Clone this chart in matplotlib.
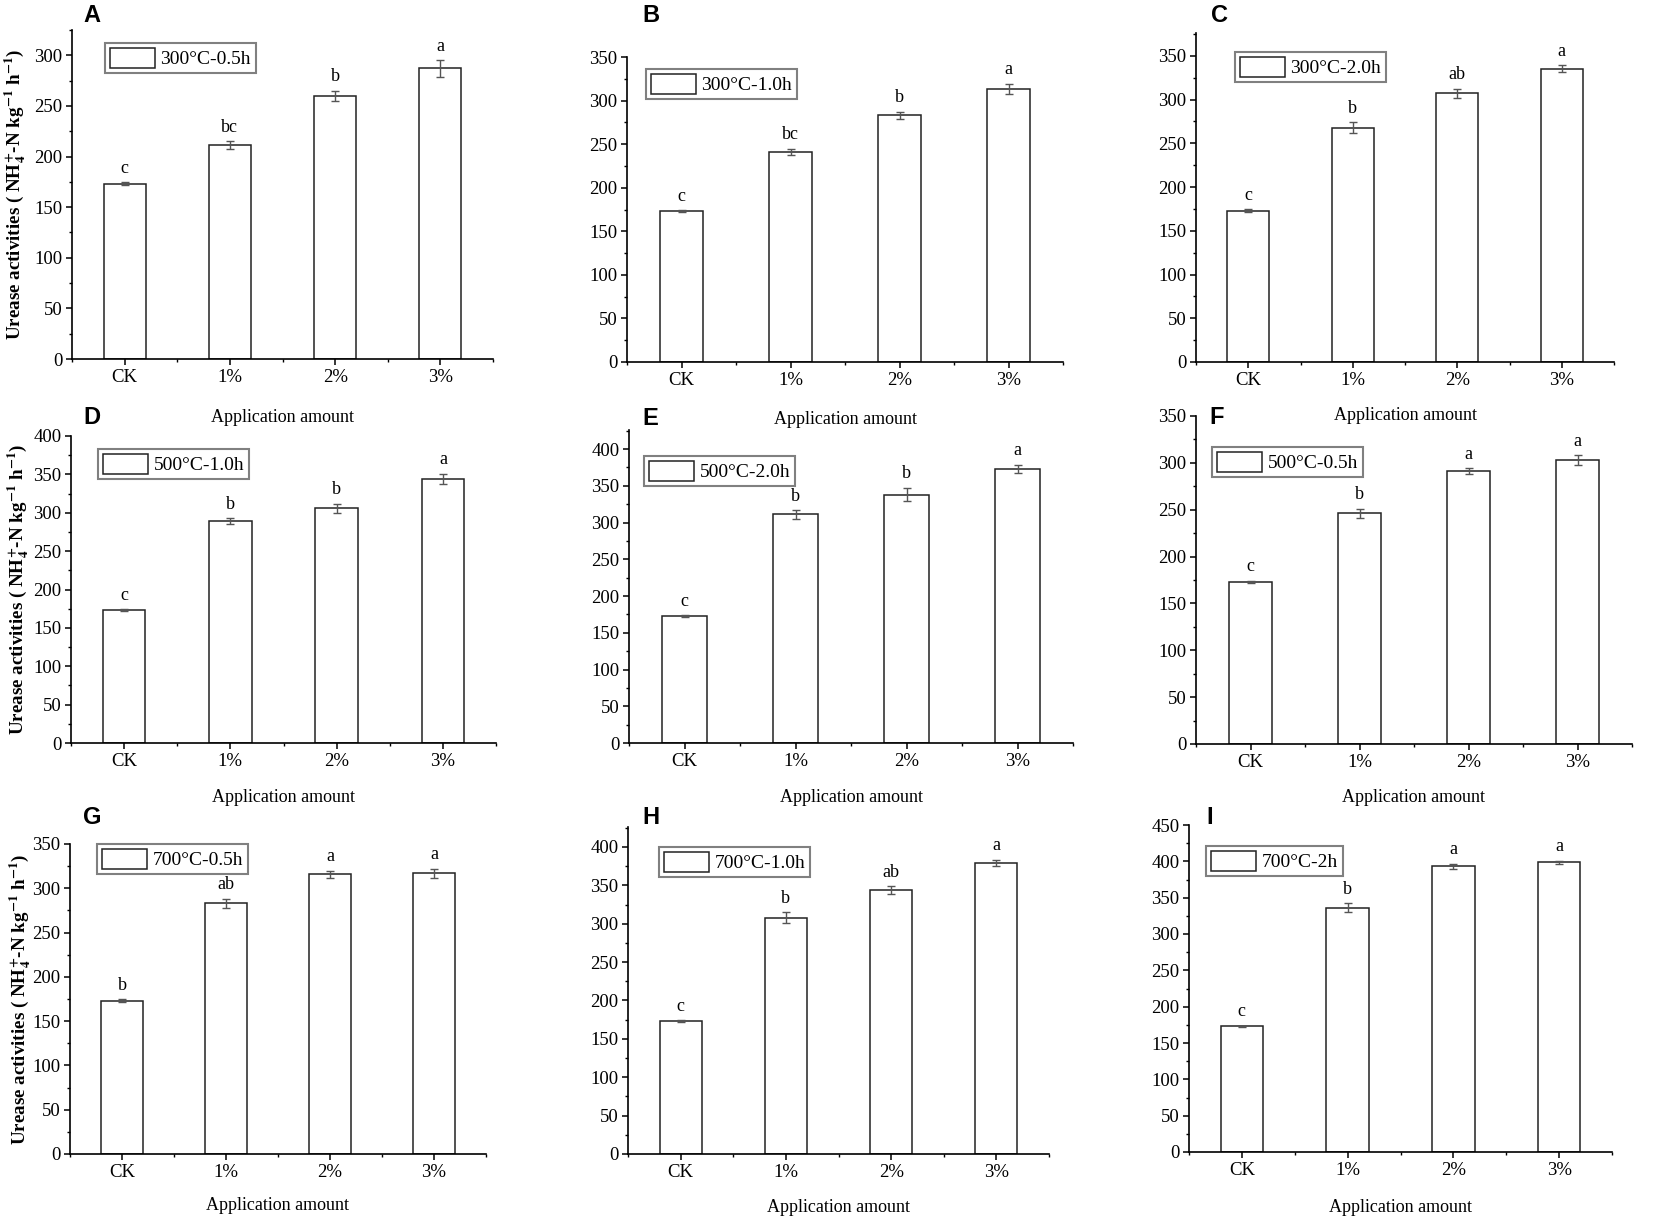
"""
Urease activity under biochar application - 3x3 panel bar charts
"""

import matplotlib
matplotlib.use("Agg")
import matplotlib.pyplot as plt
from matplotlib.ticker import MultipleLocator, AutoMinorLocator, FixedLocator

plt.rcParams['font.family'] = ['Liberation Serif', 'DejaVu Serif']
plt.rcParams['mathtext.fontset'] = 'stix'

# ---- data ----
categories = ["CK", "1%", "2%", "3%"]
panel_ids = ["A", "B", "C", "D", "E", "F", "G", "H", "I"]
treatments = ["300°C-0.5h", "300°C-1.0h", "300°C-2.0h",
              "500°C-1.0h", "500°C-2.0h", "500°C-0.5h",
              "700°C-0.5h", "700°C-1.0h", "700°C-2h"]

mean_A = [173, 211, 260, 287]
sd_A = [1.5, 4, 5, 8]
sig_A = ["c", "bc", "b", "a"]

mean_B = [173, 241, 283, 313]
sd_B = [1, 4, 4, 6]
sig_B = ["c", "bc", "b", "a"]

mean_C = [173, 268, 307, 335]
sd_C = [1.5, 6, 5, 4]
sig_C = ["c", "b", "ab", "a"]

mean_D = [173, 289, 306, 344]
sd_D = [1, 4, 6, 7]
sig_D = ["c", "b", "b", "a"]

mean_E = [173, 311, 338, 373]
sd_E = [1, 6, 9, 6]
sig_E = ["c", "b", "b", "a"]

mean_F = [173, 246, 291, 303]
sd_F = [1, 5, 3, 5]
sig_F = ["c", "b", "a", "a"]

mean_G = [173, 283, 316, 317]
sd_G = [1.5, 5, 4, 5]
sig_G = ["b", "ab", "a", "a"]

mean_H = [173, 308, 344, 379]
sd_H = [1, 7, 5, 4]
sig_H = ["c", "b", "ab", "a"]

mean_I = [173, 336, 393, 399]
sd_I = [1, 6, 4, 2]
sig_I = ["c", "b", "a", "a"]

y_top = [325, 350, 376, 400, 426, 350, 350, 426, 450]

means = [mean_A, mean_B, mean_C, mean_D, mean_E, mean_F, mean_G, mean_H, mean_I]
sds = [sd_A, sd_B, sd_C, sd_D, sd_E, sd_F, sd_G, sd_H, sd_I]
sigs = [sig_A, sig_B, sig_C, sig_D, sig_E, sig_F, sig_G, sig_H, sig_I]

# ---- layout in pixels: left, right, top, bottom ----
W, H = 1654, 1220
axes_px = [(72, 493, 30, 359), (627, 1063, 57, 362), (1196, 1614, 33, 362),
           (71, 496, 436, 743), (629, 1073, 430, 743), (1196, 1632, 416, 744),
           (70, 486, 844, 1154), (628, 1049, 827, 1154), (1189, 1612, 825, 1152)]
legend_px = [(105, 43), (646, 69), (1235, 52),
             (98, 449), (644, 456), (1212, 447),
             (97, 844), (659, 847), (1206, 846)]
letter_px = [(92, 15), (651, 15), (1219, 15),
             (92, 418), (650, 419), (1217, 418),
             (92, 817), (651, 817), (1210, 817)]
xlabel_gap = [59, 58, 53, 54, 54, 54, 51, 53, 55]
ylabel_x = {0: 15, 3: 18, 6: 20}

ylabel = r"Urease activities ( NH$_\mathbf{4}^\mathbf{+}$-N kg$^\mathbf{-1}$ h$^\mathbf{-1}$)"

fig = plt.figure(figsize=(W / 100, H / 100), dpi=100)

for i in range(9):
    left, right, top, bottom = axes_px[i]
    w, h = right - left, bottom - top
    ax = fig.add_axes([left / W, 1 - bottom / H, w / W, h / H])
    ax.patch.set_visible(False)

    x = list(range(len(categories)))
    ax.bar(x, means[i], width=0.4, color="white", edgecolor="#222222",
           linewidth=1.1, label=treatments[i], zorder=2)
    ax.errorbar(x, means[i], yerr=sds[i], fmt="none", ecolor="#555555",
                elinewidth=1.0, capsize=3, capthick=1.0, zorder=3)
    for xi, m, s, lab in zip(x, means[i], sds[i], sigs[i]):
        ax.annotate(lab, (xi, m + s), xytext=(0, 4), textcoords="offset points",
                    ha="center", va="bottom", fontsize=13)

    ax.set_xlim(-0.5, 3.5)
    ax.set_ylim(0, y_top[i])
    ax.set_xticks(x)
    ax.set_xticklabels(categories)
    ax.xaxis.set_minor_locator(FixedLocator([-0.5, 0.5, 1.5, 2.5, 3.5]))
    ax.yaxis.set_major_locator(MultipleLocator(50))
    ax.yaxis.set_minor_locator(AutoMinorLocator(2))
    ax.tick_params(which="major", direction="out", length=4, width=1.1,
                   labelsize=13.5, pad=3)
    ax.tick_params(which="minor", direction="out", length=2.5, width=1.0)
    for side in ["top", "right"]:
        ax.spines[side].set_visible(False)
    for side in ["left", "bottom"]:
        ax.spines[side].set_linewidth(1.2)

    ax.set_xlabel("Application amount", fontsize=13, va="center")
    ax.xaxis.set_label_coords(0.5, -xlabel_gap[i] / h)
    if i in ylabel_x:
        ax.set_ylabel(ylabel, fontsize=13.7, fontweight="bold", va="center")
        ax.yaxis.set_label_coords(-(left - ylabel_x[i]) / w, 0.5)

    lx, ly = legend_px[i]
    leg = ax.legend(loc="upper left",
                    bbox_to_anchor=((lx - left) / w, 1 - (ly - top) / h),
                    borderaxespad=0, fontsize=14, handlelength=2.3,
                    handleheight=1.2, handletextpad=0.3, borderpad=0.25,
                    fancybox=False, framealpha=1)
    leg.get_frame().set_edgecolor("#808080")
    leg.get_frame().set_linewidth(1.5)

    fx, fy = letter_px[i]
    fig.text(fx / W, 1 - fy / H, panel_ids[i], fontsize=17, fontweight="bold",
             family="Liberation Sans", ha="center", va="center")

fig.savefig("out.png", dpi=100)
